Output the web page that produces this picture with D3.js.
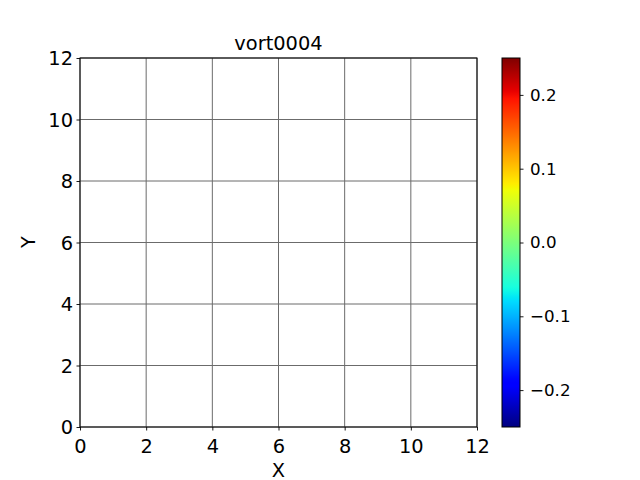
<!DOCTYPE html>
<html><head><meta charset="utf-8">
<script src="https://cdn.jsdelivr.net/npm/d3@7"></script>
<style>body{margin:0;background:#fff;} svg{display:block;font-family:"DejaVu Sans",sans-serif;}</style>
</head><body>
<svg id="c" width="640" height="480"></svg>
<script>
const title = "vort0004";
const xLabel = "X", yLabel = "Y";
const xDomain = [0, 12];
const yDomain = [0, 12];
const xTicks = [0, 2, 4, 6, 8, 10, 12];
const yTicks = [0, 2, 4, 6, 8, 10, 12];
const cbDomain = [-0.25, 0.25];
const cbTicks = [-0.2, -0.1, 0.0, 0.1, 0.2];

const svg = d3.select("#c");
const L = 80, R = 477, T = 58, B = 427;
const x = d3.scaleLinear().domain(xDomain).range([L, R]);
const y = d3.scaleLinear().domain(yDomain).range([B, T]);

// grid
const g = svg.append("g");
g.selectAll("line.vx").data(xTicks).join("line")
  .attr("x1", d => x(d)).attr("x2", d => x(d)).attr("y1", T).attr("y2", B)
  .attr("stroke", "#6b6b6b").attr("stroke-width", 1);
g.selectAll("line.hy").data(yTicks).join("line")
  .attr("y1", d => y(d)).attr("y2", d => y(d)).attr("x1", L).attr("x2", R)
  .attr("stroke", "#6b6b6b").attr("stroke-width", 1);

// axes
const xAxis = d3.axisBottom(x).tickValues(xTicks).tickFormat(d3.format("d")).tickSizeInner(3.5).tickSizeOuter(0).tickPadding(3.5);
const yAxis = d3.axisLeft(y).tickValues(yTicks).tickFormat(d3.format("d")).tickSizeInner(3.5).tickSizeOuter(0).tickPadding(3.5);
const gx = svg.append("g").attr("transform", `translate(0,${B})`).call(xAxis);
const gy = svg.append("g").attr("transform", `translate(${L},0)`).call(yAxis);
[gx, gy].forEach(a => {
  a.select(".domain").remove();
  a.selectAll("text").attr("font-size", 19.4).attr("font-family", "DejaVu Sans").attr("fill", "#000");
  a.selectAll("line").attr("stroke", "#000").attr("stroke-width", 0.9);
});
gx.selectAll("text").attr("dy", null).attr("y", 25.5);
gy.selectAll("text").attr("dy", "0.36em").attr("x", -7);

svg.append("rect").attr("x", L).attr("y", T).attr("width", R - L).attr("height", B - T)
  .attr("fill", "none").attr("stroke", "#000").attr("stroke-width", 1);

svg.append("text").attr("x", (L + R) / 2).attr("y", 49.5).attr("text-anchor", "middle")
  .attr("font-size", 19.4).text(title);
svg.append("text").attr("x", (L + R) / 2).attr("y", 476.5).attr("text-anchor", "middle")
  .attr("font-size", 19.4).text(xLabel);
svg.append("text").attr("transform", "translate(35,242) rotate(-90)").attr("text-anchor", "middle")
  .attr("font-size", 19.4).text(yLabel);

// jet colormap
function interpSeg(segs, t) {
  for (let i = 1; i < segs.length; i++) {
    if (t <= segs[i][0]) {
      const [t0, v0] = segs[i - 1], [t1, v1] = segs[i];
      return v0 + (v1 - v0) * (t - t0) / (t1 - t0);
    }
  }
  return segs[segs.length - 1][1];
}
const jR = [[0, 0], [0.35, 0], [0.66, 1], [0.89, 1], [1, 0.5]];
const jG = [[0, 0], [0.125, 0], [0.375, 1], [0.64, 1], [0.91, 0], [1, 0]];
const jB = [[0, 0.5], [0.11, 1], [0.34, 1], [0.65, 0], [1, 0]];
function jet(t) {
  return d3.rgb(255 * interpSeg(jR, t), 255 * interpSeg(jG, t), 255 * interpSeg(jB, t)).toString();
}

const CL = 502, CR = 520;
const cy = d3.scaleLinear().domain(cbDomain).range([B, T]);
const defs = svg.append("defs");
const grad = defs.append("linearGradient").attr("id", "jet").attr("x1", 0).attr("y1", 1).attr("x2", 0).attr("y2", 0);
d3.range(0, 1.0001, 0.01).forEach(t => grad.append("stop").attr("offset", t).attr("stop-color", jet(t)));
svg.append("rect").attr("x", CL).attr("y", T).attr("width", CR - CL).attr("height", B - T)
  .attr("fill", "url(#jet)").attr("stroke", "#000").attr("stroke-width", 1);
const cbAxis = d3.axisRight(cy).tickValues(cbTicks).tickFormat(d => d3.format(".1f")(d).replace("-", "\u2212"))
  .tickSizeInner(3.5).tickSizeOuter(0).tickPadding(3.5);
const gc = svg.append("g").attr("transform", `translate(${CR},0)`).call(cbAxis);
gc.select(".domain").remove();
gc.selectAll("text").attr("font-size", 16.7).attr("font-family", "DejaVu Sans").attr("fill", "#000").attr("x", 10);
gc.selectAll("line").attr("stroke", "#000").attr("stroke-width", 0.9);
</script>
</body></html>
